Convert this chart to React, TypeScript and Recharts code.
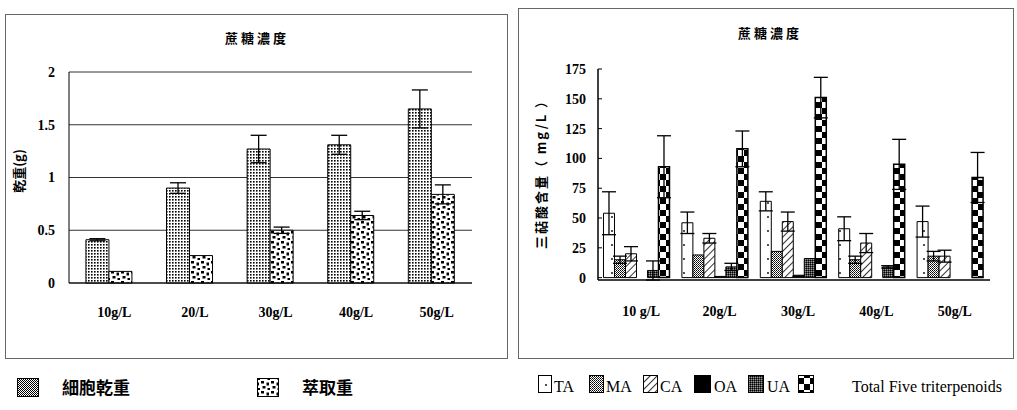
import React from "react";
import { BarChart, Bar, XAxis, YAxis, CartesianGrid, ErrorBar } from "recharts";

// left panel: dry weight vs sucrose concentration
const leftCategories = ["10g/L", "20/L", "30g/L", "40g/L", "50g/L"];
const cellDryWeight = [0.41, 0.9, 1.27, 1.31, 1.65];
const cellDryWeightErr = [0.01, 0.05, 0.13, 0.09, 0.18];
const extractWeight = [0.11, 0.26, 0.5, 0.64, 0.84];
const extractWeightErr = [0, 0, 0.03, 0.04, 0.09];
const leftTicks = [0, 0.5, 1, 1.5, 2];

// right panel: triterpenoid content (mg/L)
const rightCategories = ["10 g/L", "20g/L", "30g/L", "40g/L", "50g/L"];
const ta = [54, 46, 64, 41, 47];
const taErr = [18, 9, 8, 10, 13];
const ma = [15, 19, 22, 15, 18];
const maErr = [3, 0, 0, 3, 4];
const ca = [20, 33, 47, 29, 18];
const caErr = [6, 4, 8, 8, 5];
const oa = [0, 1, 2, 0, 0];
const ua = [6, 9, 16, 9, 0];
const uaErr = [8, 3, 0, 1, 0];
const total = [93, 108, 151, 95, 84];
const totalErr = [26, 15, 17, 21, 21];
const rightTicks = [0, 25, 50, 75, 100, 125, 150, 175];

const leftData = leftCategories.map((c, i) => ({
  c,
  dry: cellDryWeight[i],
  dryErr: cellDryWeightErr[i],
  ext: extractWeight[i],
  extErr: extractWeightErr[i],
}));

const rightData = rightCategories.map((c, i) => ({
  c,
  ta: ta[i],
  taErr: taErr[i],
  ma: ma[i],
  maErr: maErr[i],
  ca: ca[i],
  caErr: caErr[i],
  oa: oa[i],
  ua: ua[i],
  uaErr: uaErr[i],
  total: total[i],
  totalErr: totalErr[i],
}));

const SERIF = "'Liberation Serif', 'DejaVu Serif', serif";
const CJK = "'Noto Sans CJK TC', 'Noto Sans CJK SC', sans-serif";

const tickStyle = { fill: "#000", fontSize: 14, fontFamily: SERIF, fontWeight: 700 };

function Patterns() {
  return (
    <defs>
      <pattern id="p-fine" width="3" height="3" patternUnits="userSpaceOnUse">
        <rect width="3" height="3" fill="#fff" />
        <rect x="1" y="1" width="1.6" height="1.6" fill="#000" />
      </pattern>
      <pattern id="p-coarse" width="10" height="10" patternUnits="userSpaceOnUse">
        <rect width="10" height="10" fill="#fff" />
        <rect x="1" y="1" width="3" height="2.5" fill="#000" />
        <rect x="6.5" y="2.5" width="2.5" height="3" fill="#000" />
        <rect x="2.5" y="6" width="3" height="2.5" fill="#000" />
        <rect x="7.5" y="8" width="2.5" height="2" fill="#000" />
      </pattern>
      <pattern id="p-dense" width="2" height="2" patternUnits="userSpaceOnUse">
        <rect width="2" height="2" fill="#fff" />
        <rect width="1" height="1" fill="#000" />
        <rect x="1" y="1" width="1" height="1" fill="#000" />
      </pattern>
      <pattern id="p-ta" width="12" height="14" patternUnits="userSpaceOnUse">
        <rect width="12" height="14" fill="#fff" />
        <circle cx="6" cy="7" r="0.9" fill="#000" />
      </pattern>
      <pattern id="p-ma" width="2" height="2" patternUnits="userSpaceOnUse">
        <rect width="2" height="2" fill="#fff" />
        <rect width="1" height="1" fill="#000" />
        <rect x="1" y="1" width="1" height="1" fill="#333" />
      </pattern>
      <pattern id="p-ca" width="5" height="5" patternUnits="userSpaceOnUse" patternTransform="rotate(45)">
        <rect width="5" height="5" fill="#fff" />
        <line x1="0" y1="0" x2="0" y2="5" stroke="#000" strokeWidth="1.6" />
      </pattern>
      <pattern id="p-ua" width="2" height="2" patternUnits="userSpaceOnUse">
        <rect width="2" height="2" fill="#444" />
        <rect width="1" height="1" fill="#000" />
        <rect x="1" y="1" width="1" height="1" fill="#999" />
      </pattern>
      <pattern id="p-total" width="12" height="12" patternUnits="userSpaceOnUse">
        <rect width="12" height="12" fill="#fff" />
        <rect width="6" height="6" fill="#000" />
        <rect x="6" y="6" width="6" height="6" fill="#000" />
      </pattern>
    </defs>
  );
}

function Overlay() {
  return (
    <svg
      width={1017}
      height={410}
      style={{ position: "absolute", left: 0, top: 0, pointerEvents: "none" }}
    >
      <Patterns />
      {/* panel frames */}
      <rect x={5.5} y={14.5} width={502} height={344} fill="none" stroke="#666" />
      <rect x={518.5} y={8.5} width={495} height={350} fill="none" stroke="#666" />

      {/* titles */}
      <text x={257} y={43} textAnchor="middle" fontFamily={CJK} fontWeight={700} fontSize={13} letterSpacing={3}>
        蔗糖濃度
      </text>
      <text x={770} y={38} textAnchor="middle" fontFamily={CJK} fontWeight={700} fontSize={13} letterSpacing={3}>
        蔗糖濃度
      </text>

      {/* y axis titles */}
      <text
        transform="translate(24,171) rotate(-90)"
        textAnchor="middle"
        fontFamily={CJK}
        fontWeight={700}
        fontSize={13}
      >
        乾重(g)
      </text>
      <text
        transform="translate(546,171) rotate(-90)"
        textAnchor="middle"
        fontFamily={CJK}
        fontWeight={700}
        fontSize={13}
        letterSpacing={2}
      >
        三萜酸含量（ mg/L ）
      </text>

      {/* left legend */}
      <rect x={17.5} y={378.5} width={21} height={18} fill="url(#p-dense)" stroke="#000" />
      <text x={62} y={394} fontFamily={CJK} fontWeight={700} fontSize={17}>
        細胞乾重
      </text>
      <rect x={257.5} y={378.5} width={21} height={18} fill="url(#p-coarse)" stroke="#000" />
      <text x={302} y={394} fontFamily={CJK} fontWeight={700} fontSize={17}>
        萃取重
      </text>

      {/* right legend */}
      <rect x={538.5} y={375.5} width={13} height={17} fill="url(#p-ta)" stroke="#000" />
      <text x={554} y={392} fontFamily={SERIF} fontSize={16}>TA</text>
      <rect x={589.5} y={375.5} width={14} height={17} fill="url(#p-ma)" stroke="#000" />
      <text x={606} y={392} fontFamily={SERIF} fontSize={16}>MA</text>
      <rect x={643.5} y={375.5} width={14} height={17} fill="url(#p-ca)" stroke="#000" />
      <text x={660} y={392} fontFamily={SERIF} fontSize={16}>CA</text>
      <rect x={694.5} y={375.5} width={16} height={17} fill="#000" stroke="#000" />
      <text x={714} y={392} fontFamily={SERIF} fontSize={16}>OA</text>
      <rect x={748.5} y={375.5} width={15} height={17} fill="url(#p-ua)" stroke="#000" />
      <text x={767} y={392} fontFamily={SERIF} fontSize={16}>UA</text>
      <rect x={798.5} y={375.5} width={15} height={17} fill="url(#p-total)" stroke="#000" />
      <text x={852} y={392} fontFamily={SERIF} fontSize={16}>
        Total Five triterpenoids
      </text>
    </svg>
  );
}

export default function App() {
  return (
    <div
      style={{
        position: "absolute",
        left: 0,
        top: 0,
        width: 1017,
        height: 410,
        overflow: "hidden",
        background: "#fff",
      }}
    >
      <div style={{ position: "absolute", left: 0, top: 0 }}>
        <BarChart
          width={510}
          height={360}
          data={leftData}
          margin={{ top: 72, right: 38, bottom: 37, left: 9 }}
          barCategoryGap="21%"
          barGap={0}
        >
          <CartesianGrid vertical={false} stroke="#333" />
          <XAxis
            dataKey="c"
            interval={0}
            height={40}
            tickLine={false}
            tickSize={0}
            tickMargin={24}
            axisLine={{ stroke: "#000" }}
            tick={{ ...tickStyle, dx: 5 }}
          />
          <YAxis
            domain={[0, 2]}
            ticks={leftTicks}
            width={60}
            tickLine={false}
            tickSize={0}
            tickMargin={14}
            axisLine={{ stroke: "#000" }}
            tick={tickStyle}
          />
          <YAxis yAxisId="frame" orientation="right" width={0} tick={false} tickLine={false} axisLine={{ stroke: "#888" }} />
          <Bar dataKey="dry" fill="url(#p-fine)" stroke="#000" isAnimationActive={false}>
            <ErrorBar dataKey="dryErr" width={8} stroke="#000" strokeWidth={1.3} />
          </Bar>
          <Bar dataKey="ext" fill="url(#p-coarse)" stroke="#000" isAnimationActive={false}>
            <ErrorBar dataKey="extErr" width={8} stroke="#000" strokeWidth={1.3} />
          </Bar>
        </BarChart>
      </div>

      <div style={{ position: "absolute", left: 510, top: 0 }}>
        <BarChart
          width={507}
          height={360}
          data={rightData}
          margin={{ top: 69, right: 27, bottom: 40, left: 28 }}
          barCategoryGap="7%"
          barGap={0}
        >
          <XAxis
            dataKey="c"
            interval={0}
            height={40}
            tickLine={false}
            tickSize={0}
            tickMargin={26}
            axisLine={{ stroke: "#000", strokeWidth: 1.5 }}
            tick={{ ...tickStyle, dx: 4 }}
          />
          <XAxis xAxisId="top" dataKey="c" orientation="top" height={0} tick={false} tickLine={false} axisLine={{ stroke: "#000" }} />
          <YAxis
            domain={[0, 175]}
            ticks={rightTicks}
            width={60}
            tickSize={-4}
            tickMargin={16}
            tickLine={{ stroke: "#000" }}
            axisLine={{ stroke: "#000", strokeWidth: 1.5 }}
            tick={tickStyle}
          />
          <YAxis yAxisId="frame" orientation="right" width={0} tick={false} tickLine={false} axisLine={{ stroke: "#000" }} />
          <Bar dataKey="ta" fill="url(#p-ta)" stroke="#000" isAnimationActive={false}>
            <ErrorBar dataKey="taErr" width={7} stroke="#000" strokeWidth={1.3} />
          </Bar>
          <Bar dataKey="ma" fill="url(#p-ma)" stroke="#000" isAnimationActive={false}>
            <ErrorBar dataKey="maErr" width={7} stroke="#000" strokeWidth={1.3} />
          </Bar>
          <Bar dataKey="ca" fill="url(#p-ca)" stroke="#000" isAnimationActive={false}>
            <ErrorBar dataKey="caErr" width={7} stroke="#000" strokeWidth={1.3} />
          </Bar>
          <Bar dataKey="oa" fill="#000" stroke="#000" isAnimationActive={false} />
          <Bar dataKey="ua" fill="url(#p-ua)" stroke="#000" isAnimationActive={false}>
            <ErrorBar dataKey="uaErr" width={7} stroke="#000" strokeWidth={1.3} />
          </Bar>
          <Bar dataKey="total" fill="url(#p-total)" stroke="#000" strokeWidth={1.5} isAnimationActive={false}>
            <ErrorBar dataKey="totalErr" width={7} stroke="#000" strokeWidth={1.3} />
          </Bar>
        </BarChart>
      </div>
      <Overlay />
    </div>
  );
}
